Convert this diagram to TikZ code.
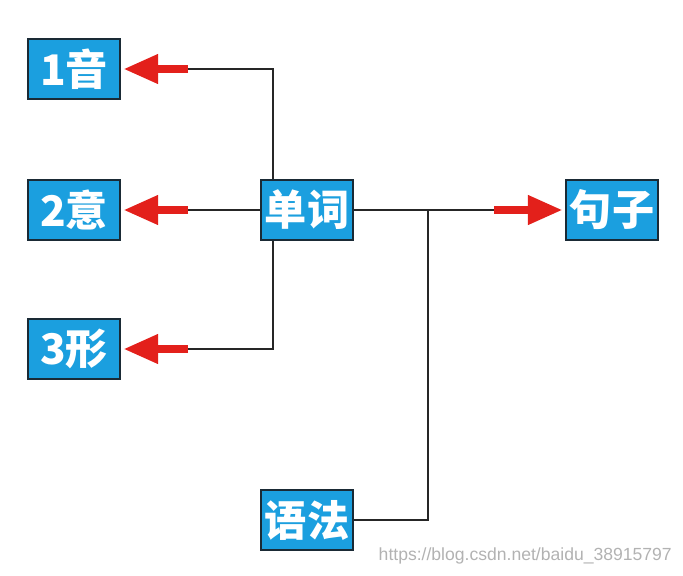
\documentclass[tikz,border=0pt]{standalone}
\usepackage{fontspec}
\setmainfont{Liberation Sans}
\newfontfamily\cjk{Noto Sans CJK SC}
\usetikzlibrary{arrows.meta, positioning}
\definecolor{boxblue}{HTML}{1B9FDF}
\definecolor{boxline}{HTML}{1A2A35}
\definecolor{arrowred}{HTML}{E3201B}

\begin{document}
\begin{tikzpicture}[
  x={(0.02cm,0)}, y={(0,-0.02cm)},
  wordbox/.style={rectangle, draw=boxline, line width=1.6pt, fill=boxblue, minimum width=1.84cm, minimum height=1.2cm, inner sep=0pt, text=white, font=\cjk\bfseries\fontsize{24}{24}\selectfont},
  link/.style={line width=1.2pt, color=black!85},
  redarrow/.style={-{Triangle[length=0.7cm, width=0.55cm]}, line width=0.17cm, color=arrowred, shorten >=1pt}
]
  \useasboundingbox (0,0) rectangle (683,575);

  % Boxes
  \node[wordbox] (yin) at (74,69) {1音};
  \node[wordbox] (yi) at (74,210) {2意};
  \node[wordbox] (xing) at (74,349) {3形};
  \node[wordbox] (danci) at (307,210) {单词};
  \node[wordbox] (juzi) at (612,210) {句子};
  \node[wordbox] (yufa) at (307,520) {语法};

  % Joints
  \coordinate (top) at (273,69);
  \coordinate (bot) at (273,349);
  \coordinate (a1) at (188,69);
  \coordinate (a2) at (188,210);
  \coordinate (a3) at (188,349);
  \coordinate (a4) at (494,210);
  \coordinate (mid) at (428,210);
  \coordinate (low) at (428,520);

  % Lines
  \draw[link] (danci.north -| top) -- (top) -- (a1);
  \draw[link] (danci) -- (a2);
  \draw[link] (danci.south -| bot) -- (bot) -- (a3);
  \draw[link] (danci) -- (a4);
  \draw[link] (yufa) -- (low) -- (mid);

  % Arrows
  \draw[redarrow] (a1) -- (yin);
  \draw[redarrow] (a2) -- (yi);
  \draw[redarrow] (a3) -- (xing);
  \draw[redarrow] (a4) -- (juzi);

  \node[anchor=east, text=black!30, font=\fontsize{10}{10}\selectfont] (mark) at (678,556) {https://blog.csdn.net/baidu\_38915797};
\end{tikzpicture}
\end{document}
